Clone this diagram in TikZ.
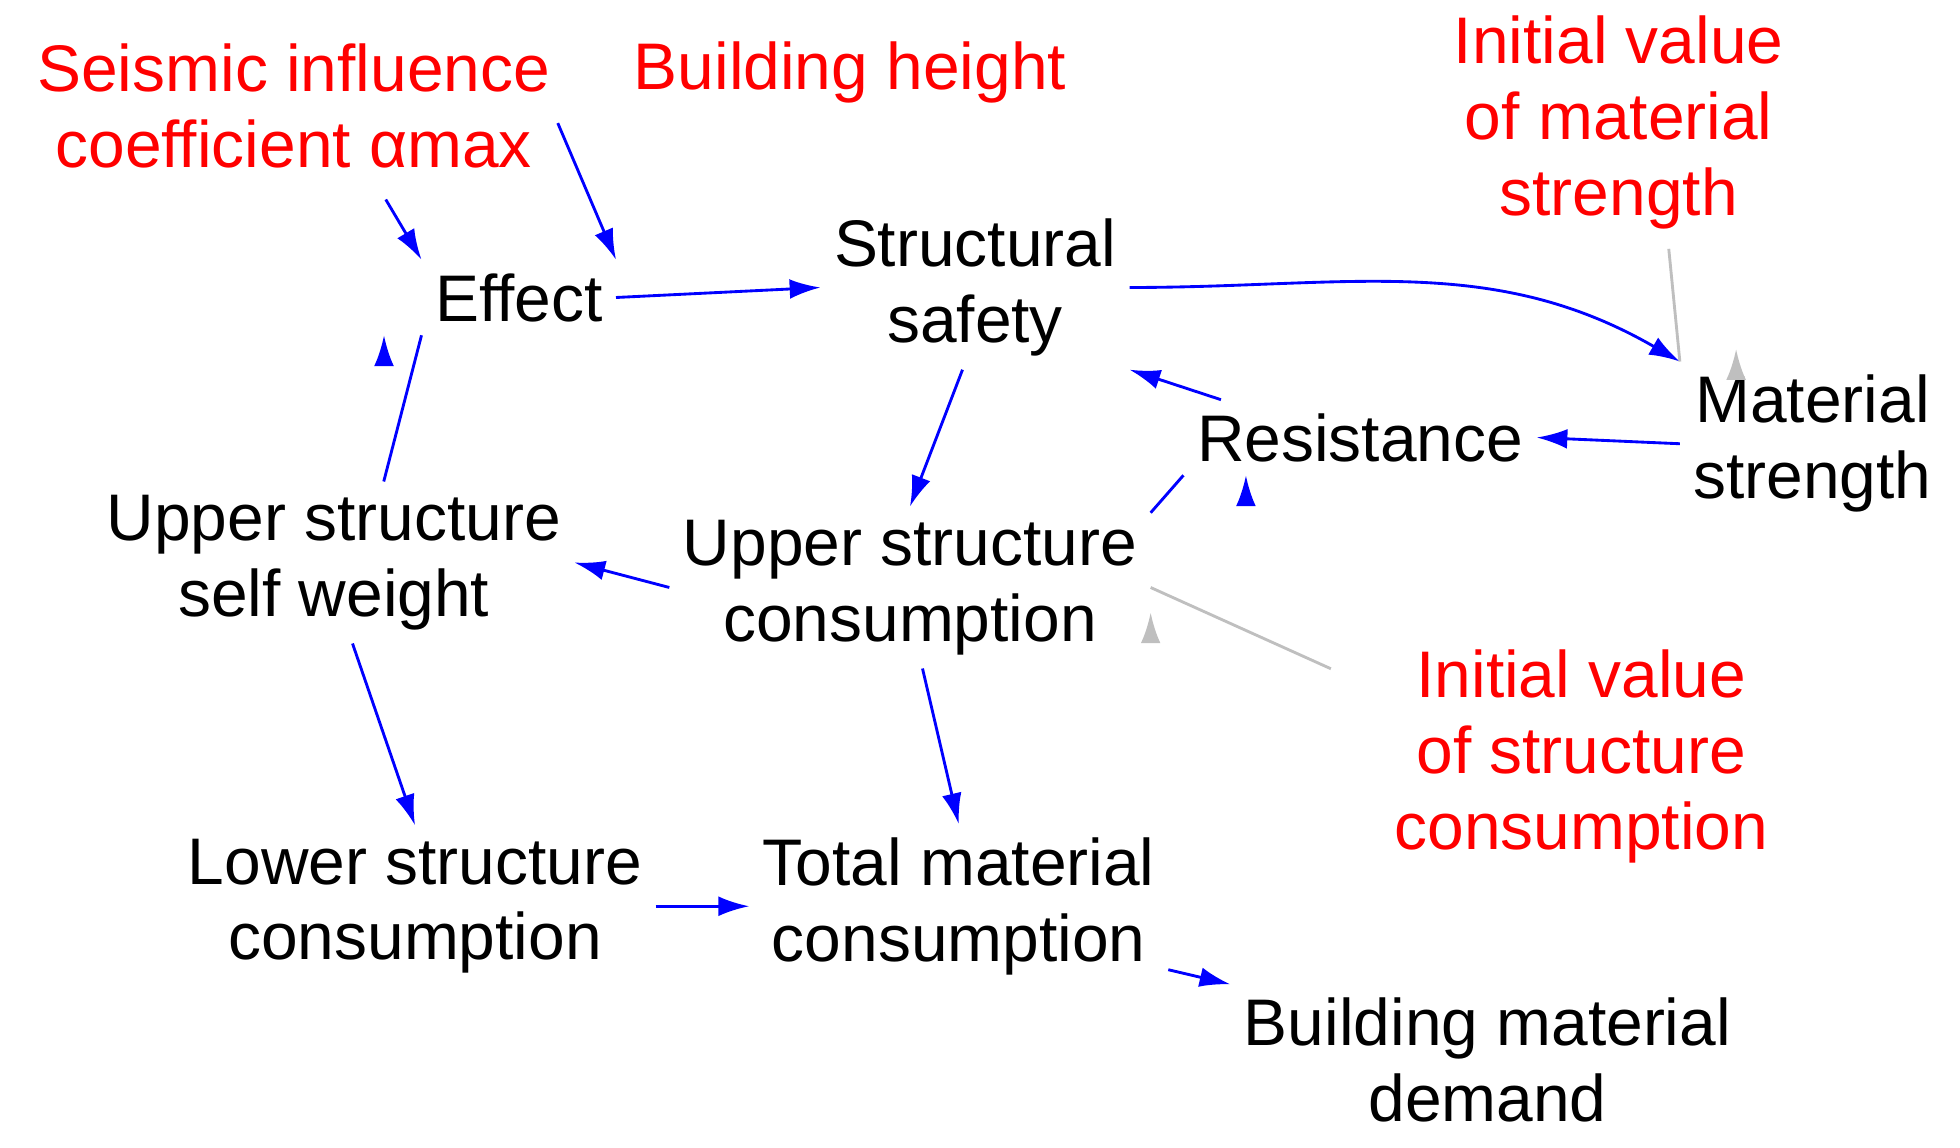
\documentclass[tikz,border=0pt]{standalone}
\usepackage{fontspec}
\setmainfont{Liberation Sans}
\usetikzlibrary{arrows.meta}
\begin{document}
\begin{tikzpicture}[x=0.02cm,y=-0.02cm,
  lbl/.style={align=center,font=\fontsize{30}{34.5}\selectfont,inner sep=6pt},
  red lbl/.style={lbl,text=red},
  arr/.style={draw=blue,line width=1.3pt,-{Latex[length=14pt,width=9pt]}},
  garr/.style={draw=black!25,line width=1.3pt,-{Latex[length=14pt,width=9pt]}}]
\useasboundingbox (0,0) rectangle (1568,918);
\node[red lbl] (seismic) at (235,85) {Seismic influence\\coefficient αmax};
\node[red lbl] (height) at (680,58) {Building height};
\node[red lbl] (initmat) at (1295,98) {Initial value\\of material\\strength};
\node[lbl] (effect) at (415,238) {Effect};
\node[lbl] (safety) at (780,230) {Structural\\safety};
\node[lbl] (material) at (1450,355) {Material\\strength};
\node[lbl] (resist) at (1088,350) {Resistance};
\node[lbl] (uppersw) at (267,450) {Upper structure\\self weight};
\node[lbl] (uppercons) at (728,470) {Upper structure\\consumption};
\node[red lbl] (initstr) at (1265,605) {Initial value\\of structure\\consumption};
\node[lbl] (lower) at (332,725) {Lower structure\\consumption};
\node[lbl] (total) at (767,725) {Total material\\consumption};
\node[lbl] (demand) at (1190,848) {Building material\\demand};
\draw[arr,shorten <=4pt] (seismic.south) ++(70,8) coordinate (s1) -- (effect.north west);
\draw[arr] (height.south west) ++(-50,5) coordinate (h1) -- (effect.north east);
\draw[arr] (effect.east) -- (safety.west);
\draw[arr] (safety.east) to[out=0,in=150] (material.north west);
\draw[garr] (initmat.south) ++(40,5) coordinate (m1) -- (material.north west) ++(45,-10);
\draw[arr] (material.west) -- (resist.east);
\draw[arr] (resist.north west) ++(30,0) coordinate (r1) -- (safety.south east);
\draw[arr] (safety.south) ++(-10,0) coordinate (sa1) -- (uppercons.north);
\draw[arr] (uppercons.north east) ++(0,5) coordinate (u1) -- (resist.south west) ++(50,0);
\draw[arr] (uppercons.west) -- (uppersw.east);
\draw[arr] (uppersw.north) ++(40,0) coordinate (w1) -- (effect.south west) ++(-30,0);
\draw[garr] (initstr.west) ++(-40,-70) coordinate (i1) -- (uppercons.east) ++(0,20);
\draw[arr] (uppersw.south) ++(15,0) coordinate (w2) -- (lower.north);
\draw[arr] (uppercons.south) ++(10,0) coordinate (u2) -- (total.north);
\draw[arr] (lower.east) -- (total.west);
\draw[arr] (total.south east) ++(0,-15) coordinate (t1) -- (demand.north west);
\end{tikzpicture}
\end{document}
